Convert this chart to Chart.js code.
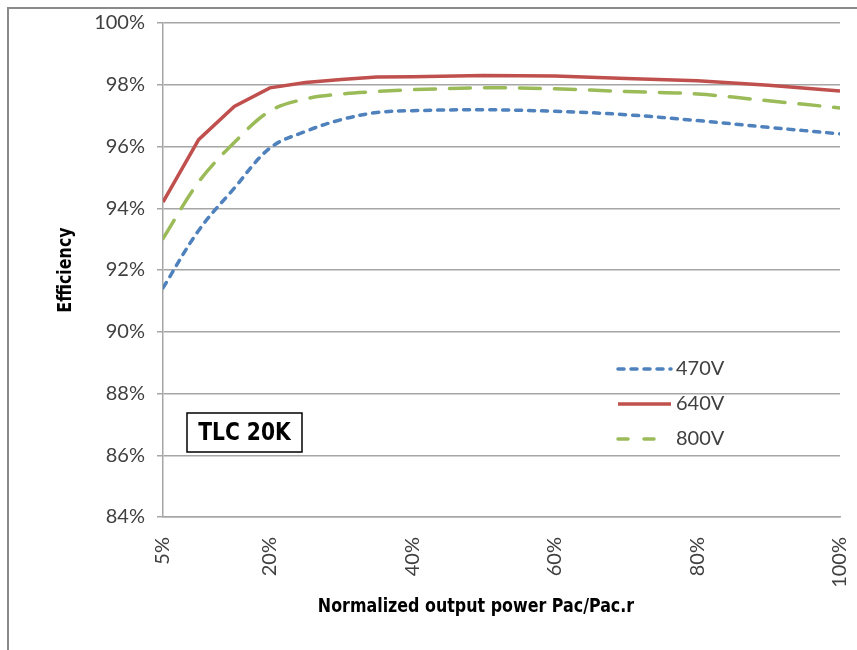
<!DOCTYPE html>
<html>
<head>
<meta charset="utf-8">
<title>TLC 20K efficiency</title>
<script src="https://cdn.jsdelivr.net/npm/chart.js@4/dist/chart.umd.min.js"></script>
<style>
  html, body { margin: 0; padding: 0; background: #fff; }
  #wrap { position: relative; width: 857px; height: 650px; }
</style>
</head>
<body>
<div id="wrap"><canvas id="chart" width="857" height="650"></canvas></div>
<script>
// Normalized output power (% of rated Pac)
const loadPct = [5, 10, 15, 20, 25, 30, 35, 40, 50, 60, 70, 80, 90, 100];

// Efficiency (%) per DC input voltage
const eff470V = [91.42, 93.28, 94.65, 95.95, 96.49, 96.87, 97.10, 97.16, 97.19, 97.14, 97.03, 96.84, 96.62, 96.41];
const eff640V = [94.20, 96.22, 97.30, 97.90, 98.07, 98.17, 98.25, 98.26, 98.30, 98.28, 98.20, 98.13, 97.98, 97.80];
const eff800V = [93.02, 94.85, 96.13, 97.15, 97.54, 97.70, 97.78, 97.84, 97.90, 97.87, 97.78, 97.70, 97.48, 97.25];

const seriesNames = ['470V', '640V', '800V'];
const xTickValues = [5, 20, 40, 60, 80, 100];
const yTickValues = [84, 86, 88, 90, 92, 94, 96, 98, 100];

const modelLabel = 'TLC 20K';
const xTitle = 'Normalized output power Pac/Pac.r';
const yTitle = 'Efficiency';

const tickFont = { family: 'Lato, "Open Sans", sans-serif', size: 20 };
const titleFamily = '"DejaVu Sans Condensed", "DejaVu Sans", sans-serif';
const textColor = '#404040';
const gridColor = '#a6a6a6';

const toPoints = ys => loadPct.map((x, i) => ({ x, y: ys[i] }));

// Draws text squeezed horizontally to a condensed look
function condensedText(ctx, text, x, y, squeeze) {
  ctx.save();
  ctx.translate(x, y);
  ctx.scale(squeeze, 1);
  ctx.fillText(text, 0, 0);
  ctx.restore();
}

// Outer frame around the chart
const framePlugin = {
  id: 'frame',
  beforeDraw(chart) {
    const ctx = chart.ctx;
    ctx.save();
    ctx.fillStyle = '#fff';
    ctx.fillRect(0, 0, chart.width, chart.height);
    ctx.strokeStyle = '#8a8a8a';
    ctx.lineWidth = 2;
    ctx.beginPath();
    ctx.moveTo(8, chart.height + 2);
    ctx.lineTo(8, 8);
    ctx.lineTo(chart.width + 2, 8);
    ctx.stroke();
    ctx.restore();
  }
};

// In-plot legend, model label box and axis titles
const overlayPlugin = {
  id: 'overlay',
  afterDraw(chart) {
    const ctx = chart.ctx;
    ctx.save();

    // legend
    const lx0 = 618, lx1 = 671, ly0 = 369, lstep = 35;
    chart.data.datasets.forEach((ds, i) => {
      const y = ly0 + i * lstep;
      ctx.strokeStyle = ds.borderColor;
      ctx.lineWidth = ds.borderWidth;
      ctx.lineCap = ds.borderCapStyle || 'butt';
      ctx.setLineDash(ds.legendDash || []);
      ctx.beginPath();
      ctx.moveTo(lx0, y);
      ctx.lineTo(lx1, y);
      ctx.stroke();
      ctx.setLineDash([]);
      ctx.fillStyle = textColor;
      ctx.font = `${tickFont.size}px ${tickFont.family}`;
      ctx.textAlign = 'left';
      ctx.textBaseline = 'middle';
      ctx.fillText(ds.label, 676, y);
    });

    // model label box
    const bx = 187, by = 413, bw = 115, bh = 39;
    ctx.fillStyle = '#fff';
    ctx.fillRect(bx, by, bw, bh);
    ctx.strokeStyle = '#000';
    ctx.lineWidth = 1.5;
    ctx.strokeRect(bx, by, bw, bh);
    ctx.fillStyle = '#000';
    ctx.font = `bold 25px ${titleFamily}`;
    ctx.textAlign = 'center';
    ctx.textBaseline = 'middle';
    condensedText(ctx, modelLabel, bx + bw / 2, by + bh / 2 + 1, 0.9);

    // x-axis title
    ctx.font = `bold 19px ${titleFamily}`;
    condensedText(ctx, xTitle, 476, 607, 0.93);

    // y-axis title
    ctx.save();
    ctx.translate(66, 270);
    ctx.rotate(-Math.PI / 2);
    condensedText(ctx, yTitle, 0, 0, 0.93);
    ctx.restore();

    ctx.restore();
  }
};

new Chart(document.getElementById('chart'), {
  type: 'line',
  data: {
    datasets: [
      {
        label: seriesNames[0],
        data: toPoints(eff470V),
        borderColor: '#4f81bd',
        borderWidth: 3.5,
        borderDash: [6, 7],
        borderCapStyle: 'round',
        legendDash: [6, 7],
        tension: 0.35,
        pointRadius: 0,
        fill: false
      },
      {
        label: seriesNames[1],
        data: toPoints(eff640V),
        borderColor: '#c0504d',
        borderWidth: 3.5,
        borderCapStyle: 'butt',
        tension: 0,
        pointRadius: 0,
        fill: false
      },
      {
        label: seriesNames[2],
        data: toPoints(eff800V),
        borderColor: '#9bbb59',
        borderWidth: 3.5,
        borderDash: [21, 14],
        borderCapStyle: 'round',
        legendDash: [10, 16, 10, 60],
        tension: 0.35,
        pointRadius: 0,
        fill: false
      }
    ]
  },
  options: {
    responsive: false,
    animation: false,
    events: [],
    layout: { padding: { left: 0, top: 23, right: 17, bottom: 0 } },
    plugins: {
      legend: { display: false },
      tooltip: { enabled: false }
    },
    scales: {
      x: {
        type: 'linear',
        min: 5,
        max: 100,
        afterFit(scale) {
          scale.height = 133;
          scale.paddingLeft = 0;
          scale.paddingRight = 0;
        },
        afterBuildTicks(scale) { scale.ticks = xTickValues.map(v => ({ value: v })); },
        grid: { display: false, drawTicks: false },
        border: { display: true, color: gridColor, width: 1.5 },
        ticks: {
          minRotation: 90,
          maxRotation: 90,
          padding: 20,
          color: textColor,
          font: tickFont,
          callback: v => v + '%'
        }
      },
      y: {
        type: 'linear',
        min: 84,
        max: 100,
        afterFit(scale) {
          scale.width = 163;
          scale.paddingTop = 0;
          scale.paddingBottom = 0;
        },
        afterBuildTicks(scale) { scale.ticks = yTickValues.map(v => ({ value: v })); },
        grid: { color: gridColor, lineWidth: 1.5, tickLength: 6, drawTicks: true },
        border: { display: true, color: gridColor, width: 1.5 },
        ticks: {
          padding: 12,
          color: textColor,
          font: tickFont,
          callback: v => v + '%'
        }
      }
    }
  },
  plugins: [framePlugin, overlayPlugin]
});
</script>
</body>
</html>
